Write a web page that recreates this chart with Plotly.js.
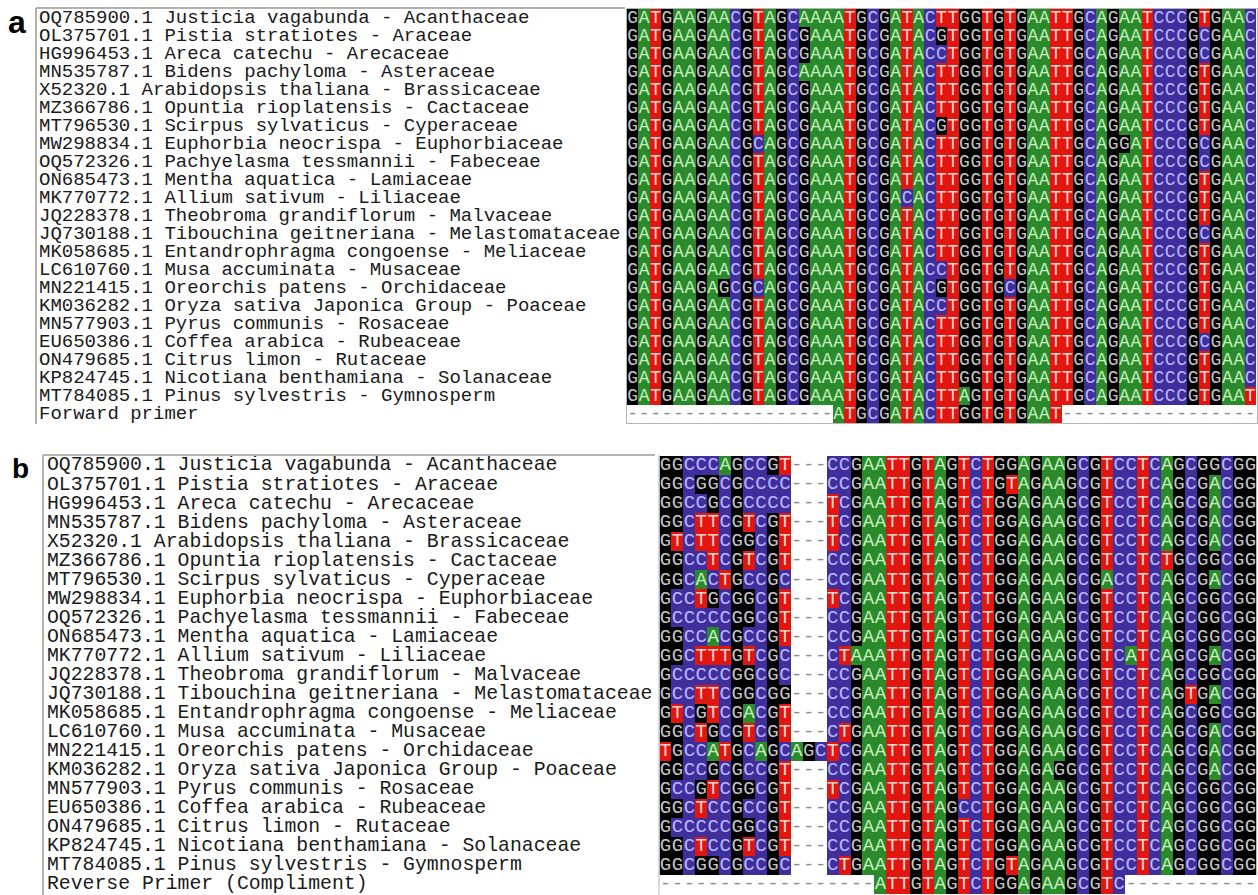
<!DOCTYPE html>
<html>
<head>
<meta charset="utf-8">
<script src="https://cdn.plot.ly/plotly-3.0.1.min.js"></script>
<style>html,body{margin:0;padding:0;background:#fff;}#chart{width:1258px;height:895px;}</style>
</head>
<body>
<div id="chart"></div>
<script>
// ---------- DATA ----------
const speciesNames = [
  "OQ785900.1 Justicia vagabunda - Acanthaceae",
  "OL375701.1 Pistia stratiotes - Araceae",
  "HG996453.1 Areca catechu - Arecaceae",
  "MN535787.1 Bidens pachyloma - Asteraceae",
  "X52320.1 Arabidopsis thaliana - Brassicaceae",
  "MZ366786.1 Opuntia rioplatensis - Cactaceae",
  "MT796530.1 Scirpus sylvaticus - Cyperaceae",
  "MW298834.1 Euphorbia neocrispa - Euphorbiaceae",
  "OQ572326.1 Pachyelasma tessmannii - Fabeceae",
  "ON685473.1 Mentha aquatica - Lamiaceae",
  "MK770772.1 Allium sativum - Liliaceae",
  "JQ228378.1 Theobroma grandiflorum - Malvaceae",
  "JQ730188.1 Tibouchina geitneriana - Melastomataceae",
  "MK058685.1 Entandrophragma congoense - Meliaceae",
  "LC610760.1 Musa accuminata - Musaceae",
  "MN221415.1 Oreorchis patens - Orchidaceae",
  "KM036282.1 Oryza sativa Japonica Group - Poaceae",
  "MN577903.1 Pyrus communis - Rosaceae",
  "EU650386.1 Coffea arabica - Rubeaceae",
  "ON479685.1 Citrus limon - Rutaceae",
  "KP824745.1 Nicotiana benthamiana - Solanaceae",
  "MT784085.1 Pinus sylvestris - Gymnosperm"
];
const primerLabelA = "Forward primer";
const primerLabelB = "Reverse Primer (Compliment)";

const seqsA = [
  "GATGAAGAACGTAGCAAAATGCGATACTTGGTGTGAATTGCAGAATCCCGTGAAC",
  "GATGAAGAACGTAGCGAAATGCGATACGTGGTGTGAATTGCAGAATCCCGCGAAC",
  "GATGAAGAACGTAGCGAAATGCGATACCTGGTGTGAATTGCAGAATCCCGCGAAC",
  "GATGAAGAACGTAGCAAAATGCGATACTTGGTGTGAATTGCAGAATCCCGTGAAC",
  "GATGAAGAACGTAGCGAAATGCGATACTTGGTGTGAATTGCAGAATCCCGTGAAC",
  "GATGAAGAACGTAGCGAAATGCGATACTTGGTGTGAATTGCAGAATCCCGTGAAC",
  "GATGAAGAACGTAGCGAAATGCGATACGTGGTGTGAATTGCAGAATCCCGTGAAC",
  "GATGAAGAACGCAGCGAAATGCGATACTTGGTGTGAATTGCAGGATCCCGCGAAC",
  "GATGAAGAACGTAGCGAAATGCGATACTTGGTGTGAATTGCAGAATCCCGCGAAC",
  "GATGAAGAACGTAGCGAAATGCGATACTTGGTGTGAATTGCAGAATCCCGTGAAC",
  "GATGAAGAACGTAGCGAAATGCGACACTTGGTGTGAATTGCAGAATCCCGTGAAC",
  "GATGAAGAACGTAGCGAAATGCGATACTTGGTGTGAATTGCAGAATCCCGTGAAC",
  "GATGAAGAACGTAGCGAAATGCGATACTTGGTGTGAATTGCAGAATCCCGCGAAC",
  "GATGAAGAACGTAGCGAAATGCGATACTTGGTGTGAATTGCAGAATCCCGTGAAC",
  "GATGAAGAACGTAGCGAAATGCGATACCTGGTGTGAATTGCAGAATCCCGTGAAC",
  "GATGAAGAGCGCAGCGAAATGCGATACGTGGTGCGAATTGCAGAATCCCGTGAAC",
  "GATGAAGAACGTAGCGAAATGCGATACCTGGTGTGAATTGCAGAATCCCGTGAAC",
  "GATGAAGAACGTAGCGAAATGCGATACTTGGTGTGAATTGCAGAATCCCGTGAAC",
  "GATGAAGAACGTAGCGAAATGCGATACTTGGTGTGAATTGCAGAATCCCGCGAAC",
  "GATGAAGAACGTAGCGAAATGCGATACTTGGTGTGAATTGCAGAATCCCGTGAAC",
  "GATGAAGAACGTAGCGAAATGCGATACTTGGTGTGAATTGCAGAATCCCGTGAAC",
  "GATGAAGAACGTAGCGAAATGCGATACTTAGTGTGAATTGCAGAATCCCGTGAAT",
  "------------------ATGCGATACTTGGTGTGAAT-----------------"
];

const seqsB = [
  "GGCCCAGCCGT---CCGAATTGTAGTCTGGAGAAGCGTCCTCAGCGGCGG",
  "GGCGGCGCCCC---CCGAATTGTAGTCTGTAGAAGCGTCCTCAGCGACGG",
  "GGCCGCGCCCC---TCGAATTGTAGTCTGGAGAAGCGTCCTCAGCGACGG",
  "GGCTTCGTCGT---TCGAATTGTAGTCTGGAGAAGCGTCCTCAGCGACGG",
  "GTCTTCGGCGT---TCGAATTGTAGTCTGGAGAAGCGTCCTCAGCGACGG",
  "GGCCTCGTCGT---CCGAATTGTAGTCTGGAGAAGCGTCCTCTGCGGCGG",
  "GGCACTGCCGC---CCGAATTGTAGTCTGGAGAAGCGACCTCAGCGACGG",
  "GCCTGCGGCGT---TCGAATTGTAGTCTGGAGAAGCGTCCTCAGCGGCGG",
  "GCCCCCGGCGT---CCGAATTGTAGTCTGGAGAAGCGTCCTCAGCGGCGG",
  "GGCCACGCCGT---CCGAATTGTAGTCTGGAGAAGCGTCCTCAGCGGCGG",
  "GGCTTTGTCGC---CTAAATTGTAGTCTGGAGAAGCGTCATCAGCGACGG",
  "GCCCCCGGCGC---CCGAATTGTAGTCTGGAGAAGCGTCCTCAGCGGCGG",
  "GCCTTCGGCGG---CCGAATTGTAGTCTGGAGAAGCGTCCTCAGTGACGG",
  "GTCGTCGACGT---CCGAATTGTAGTCTGGAGAAGCGTCCTCAGCGGCGG",
  "GGCTGCGTCGT---CTGAATTGTAGTCTGGAGAAGCGTCCTCAGCGACGG",
  "TGCCATGCAGCAGCTCGAATTGTAGTCTGGAGAAGCGTCCTCAGCGACGG",
  "GGCCGCGCCGT---CCGAATTGTAGTCTGGAGAGGCGTCCTCAGCGACGG",
  "GCCGTCGGCGT---TCGAATTGTAGTCTGGAGAAGCGTCCTCAGCGGCGG",
  "GGCTCCGCCGT---CCGAATTGTAGCCTGGAGAAGCGTCCTCAGCGGCGG",
  "GCCCCCGGCGT---CCGAATTGTAGTCTGGAGAAGCGTCCTCAGCGGCGG",
  "GGCTCCGTCGT---CCGAATTGTAGTCTGGAGAAGCGTCCTCAGCGGCGG",
  "GGCGGCGCCGC---CTGAATTGTAGTCTGTAGAAGCGTCCTCAGCGGCGG",
  "------------------ATTGTAGTCTGGAGAAGCGTC-----------"
];

// ---------- STYLE ----------
const W = 1258, H = 895;
const px = v => v / W;
const py = v => 1 - v / H;
const baseCode = {A:0, C:1, G:2, T:3, '-':4};
const bgScale = [
  [0,'#2b8a2b'],[0.125,'#2b8a2b'],
  [0.125,'#3f2e9c'],[0.375,'#3f2e9c'],
  [0.375,'#000000'],[0.625,'#000000'],
  [0.625,'#e3160f'],[0.875,'#e3160f'],
  [0.875,'#ffffff'],[1,'#ffffff']
];
const letterColor = {A:'#c9f2c0', C:'#b8b8ff', G:'#c4c4c4', T:'#ffd6d2', '-':'#8c8c8c'};
const monoFont = "'Courier New', 'Liberation Mono', monospace";

function alignTraces(seqs, xa, ya, fontSize) {
  const z = seqs.map(s => s.split('').map(c => baseCode[c]));
  const xs = [], ys = [], tx = [], cols = [];
  seqs.forEach((s, r) => s.split('').forEach((c, k) => {
    xs.push(k); ys.push(r); tx.push(c); cols.push(letterColor[c]);
  }));
  return [
    {type:'heatmap', z:z, xaxis:xa, yaxis:ya, colorscale:bgScale, zmin:0, zmax:4,
     showscale:false, hoverinfo:'skip', xgap:0, ygap:0},
    {type:'scatter', mode:'text', x:xs, y:ys, text:tx, xaxis:xa, yaxis:ya,
     textposition:'middle center', hoverinfo:'skip', showlegend:false,
     textfont:{family:monoFont, size:fontSize, color:cols}}
  ];
}
function nameTrace(names, xa, ya, fontSize) {
  return {type:'scatter', mode:'text', x:names.map(() => 0), y:names.map((n, i) => i),
    text:names, xaxis:xa, yaxis:ya, textposition:'middle right', hoverinfo:'skip',
    showlegend:false, marker:{size:1}, textfont:{family:monoFont, size:fontSize, color:'#1a1a1a'}};
}

const namesA = speciesNames.concat([primerLabelA]);
const namesB = speciesNames.concat([primerLabelB]);

const data = [
  ...alignTraces(seqsA, 'x', 'y', 18),
  ...alignTraces(seqsB, 'x2', 'y2', 19),
  nameTrace(namesA, 'x3', 'y', 19),
  nameTrace(namesB, 'x4', 'y2', 19.8)
];

const hid = {showgrid:false, zeroline:false, showticklabels:false, ticks:'', showline:false, fixedrange:true};
const layout = {
  width:W, height:H, margin:{l:0,r:0,t:0,b:0,pad:0},
  paper_bgcolor:'#fff', plot_bgcolor:'rgba(0,0,0,0)', showlegend:false,
  xaxis:  Object.assign({}, hid, {domain:[px(627), px(1256)], range:[-0.5, seqsA[0].length-0.5], anchor:'y'}),
  yaxis:  Object.assign({}, hid, {domain:[py(423), py(9)], range:[seqsA.length-0.5, -0.5], anchor:'x'}),
  xaxis2: Object.assign({}, hid, {domain:[px(659.5), px(1256.5)], range:[-0.5, seqsB[0].length-0.5], anchor:'y2'}),
  yaxis2: Object.assign({}, hid, {domain:[py(894), py(456)], range:[seqsB.length-0.5, -0.5], anchor:'x2'}),
  xaxis3: Object.assign({}, hid, {domain:[px(39), px(628)], range:[0, 589], anchor:'y'}),
  xaxis4: Object.assign({}, hid, {domain:[px(47), px(659)], range:[0, 612], anchor:'y2'}),
  shapes: [
    // panel a name box
    {type:'line', xref:'paper', yref:'paper', x0:px(36), x1:px(625), y0:py(8), y1:py(8), line:{color:'#9a9a9a', width:1.5}},
    {type:'line', xref:'paper', yref:'paper', x0:px(36), x1:px(36), y0:py(8), y1:py(424), line:{color:'#9a9a9a', width:1.5}},
    // panel a alignment frame
    {type:'rect', xref:'paper', yref:'paper', x0:px(626.5), x1:px(1257.5), y0:py(423.5), y1:py(8.5), line:{color:'#b5b5b5', width:1}},
    // panel b name box
    {type:'line', xref:'paper', yref:'paper', x0:px(43), x1:px(655), y0:py(455), y1:py(455), line:{color:'#9a9a9a', width:1.5}},
    {type:'line', xref:'paper', yref:'paper', x0:px(43), x1:px(43), y0:py(455), y1:py(895), line:{color:'#9a9a9a', width:1.5}},
    // panel b alignment frame left
    {type:'line', xref:'paper', yref:'paper', x0:px(659), x1:px(659), y0:py(455), y1:py(895), line:{color:'#b5b5b5', width:1}}
  ],
  annotations: [
    {text:'<b>a</b>', xref:'paper', yref:'paper', x:px(17), y:py(22), xanchor:'center', yanchor:'middle', showarrow:false,
     font:{family:"'Liberation Sans', Arial, sans-serif", size:32, color:'#000'}},
    {text:'<b>b</b>', xref:'paper', yref:'paper', x:px(20), y:py(468), xanchor:'center', yanchor:'middle', showarrow:false,
     font:{family:"'Liberation Sans', Arial, sans-serif", size:28, color:'#000'}}
  ]
};

Plotly.newPlot('chart', data, layout, {displayModeBar:false, staticPlot:true});
</script>
</body>
</html>
